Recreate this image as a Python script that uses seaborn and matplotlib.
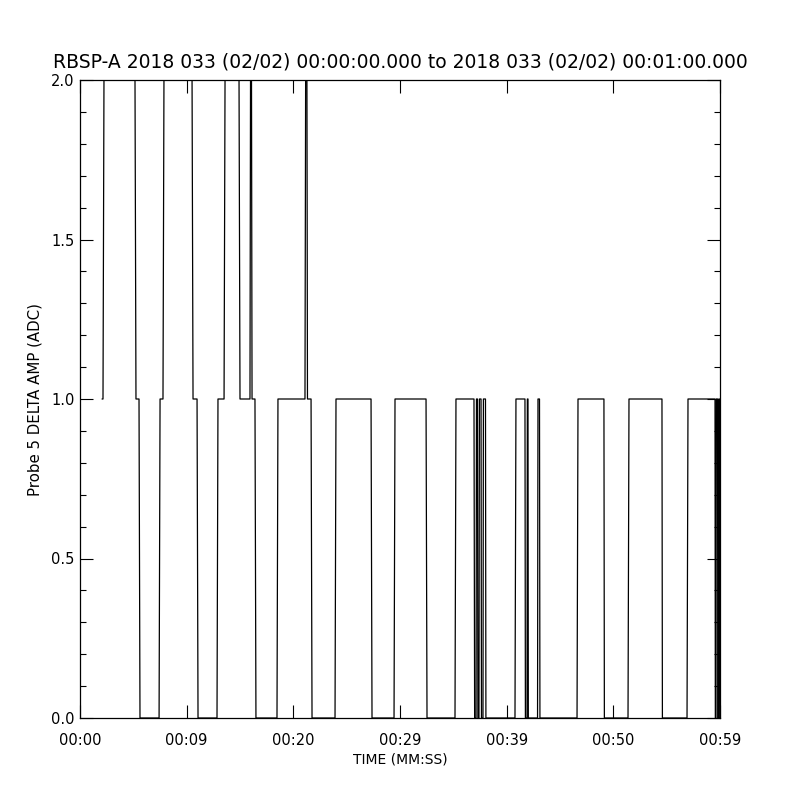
import matplotlib
matplotlib.use("Agg")
import matplotlib.pyplot as plt
from matplotlib.ticker import MultipleLocator, FixedLocator
import seaborn as sns
import pandas as pd

# ---- data (time in seconds, amplitude in ADC) ----
time_s = [2.03, 2.12, 2.21, 5.07, 5.16, 5.44, 5.53, 7.29, 7.38, 7.65, 7.74,
          10.33, 10.42, 10.79, 10.88, 12.63, 12.72, 13.28, 13.37, 14.66, 14.75,
          15.67, 15.72, 15.81, 15.86, 16.13, 16.22, 18.16, 18.25, 20.74, 20.80,
          20.92, 20.97, 21.30, 21.39, 23.51, 23.60, 26.83, 26.92, 28.95, 29.04,
          31.90, 31.99, 34.57, 34.66, 36.32, 36.38, 36.51, 36.55, 36.64, 36.68,
          36.78, 36.82, 36.97, 37.01, 37.15, 37.19, 37.38, 37.42, 40.10, 40.19,
          41.02, 41.06, 41.21, 41.24, 41.30, 41.33, 42.18, 42.22, 42.36, 42.40,
          45.82, 45.91, 48.30, 48.34, 50.52, 50.61, 53.65, 53.69, 55.96, 56.05,
          58.54, 58.57, 58.63, 58.66, 58.77, 58.80, 58.86, 58.89, 58.95, 58.98,
          59.00]
delta_amp = [1, 1, 2, 2, 1, 1, 0, 0, 1, 1, 2,
             2, 1, 1, 0, 0, 1, 1, 2, 2, 1,
             1, 2, 2, 1, 1, 0, 0, 1, 1, 2,
             2, 1, 1, 0, 0, 1, 1, 0, 0, 1,
             1, 0, 0, 1, 1, 0, 0, 1, 1, 0,
             0, 1, 1, 0, 0, 1, 1, 0, 0, 1,
             1, 0, 0, 1, 1, 0, 0, 1, 1, 0,
             0, 1, 1, 0, 0, 1, 1, 0, 0, 1,
             1, 0, 0, 1, 1, 0, 0, 1, 1, 0,
             0]

x_tick_values = [0, 59 / 6, 2 * 59 / 6, 3 * 59 / 6, 4 * 59 / 6, 5 * 59 / 6, 59]
x_tick_labels = ["00:00", "00:09", "00:20", "00:29", "00:39", "00:50", "00:59"]
y_tick_values = [0.0, 0.5, 1.0, 1.5, 2.0]
y_tick_labels = ["0.0", "0.5", "1.0", "1.5", "2.0"]

title = "RBSP-A 2018 033 (02/02) 00:00:00.000 to 2018 033 (02/02) 00:01:00.000"
xlabel = "TIME (MM:SS)"
ylabel = "Probe 5 DELTA AMP (ADC)"

df = pd.DataFrame({"t": time_s, "amp": delta_amp})

sns.set_style("white")
plt.rcParams["font.family"] = ["DejaVu Sans"]
plt.rcParams["text.color"] = "black"
plt.rcParams["axes.labelcolor"] = "black"
plt.rcParams["xtick.color"] = "black"
plt.rcParams["ytick.color"] = "black"

fig = plt.figure(figsize=(8, 8), dpi=100)
ax = fig.add_axes([0.1, 0.1025, 0.8, 0.7975])

sns.lineplot(data=df, x="t", y="amp", estimator=None, sort=False,
             color="black", linewidth=0.9, ax=ax)

ax.set_xlim(0, 59)
ax.set_ylim(0, 2)

ax.xaxis.set_major_locator(FixedLocator(x_tick_values))
ax.set_xticklabels(x_tick_labels)
ax.yaxis.set_major_locator(FixedLocator(y_tick_values))
ax.set_yticklabels(y_tick_labels)
ax.yaxis.set_minor_locator(MultipleLocator(0.1))

ax.tick_params(axis="both", which="both", direction="in",
               top=True, right=True, bottom=True, left=True,
               color="black", labelcolor="black", width=0.8)
ax.tick_params(axis="y", which="major", length=9.4, pad=4, labelsize=10.5)
ax.tick_params(axis="y", which="minor", length=4.5)
ax.tick_params(axis="x", which="major", length=9.4, pad=11, labelsize=10.5)

for s in ax.spines.values():
    s.set_color("black")
    s.set_linewidth(0.9)

ax.set_title(title, fontsize=13.5, pad=9, color="black")
ax.set_xlabel(xlabel, fontsize=10, labelpad=3, color="black")
ax.set_ylabel(ylabel, fontsize=10.8, labelpad=6, color="black")

fig.savefig("out.png", dpi=100, facecolor="white")
